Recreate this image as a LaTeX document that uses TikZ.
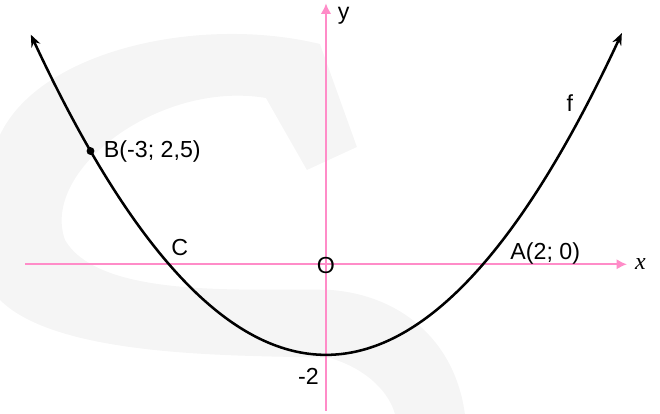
\documentclass[tikz,border=0pt]{standalone}
\usepackage{fontspec}
\setmainfont{Liberation Sans}
\newfontfamily\seriffont{Liberation Serif}
\usetikzlibrary{arrows.meta}
\definecolor{axispink}{RGB}{255,140,200}
\definecolor{markgray}{RGB}{245,245,245}
\begin{document}
\begin{tikzpicture}[x=1.9625cm,y=1.1325cm,
  axis/.style={axispink,line width=1.3pt,-{Latex[length=2.6mm,width=2.6mm]}},
  graph/.style={line width=1.8pt,{Stealth[length=3mm,width=2.4mm]}-{Stealth[length=3mm,width=2.4mm]}},
  lbl/.style={font=\fontsize{16.5}{19}\selectfont,inner sep=0pt}]
\useasboundingbox (-4.153,-3.305) rectangle (4.255,5.834);
\begin{scope}[shift={(-8.15cm,6.607cm)},x=0.025cm,y=-0.025cm]
\fill[markgray] (357,147) -- (320,44) .. controls (200,15) and (40,50) .. (0,135) -- (0,300)
  .. controls (60,360) and (250,355) .. (330,358) .. controls (370,370) and (390,395) .. (395,414)
  -- (465,414) .. controls (455,340) and (400,295) .. (330,290)
  .. controls (250,288) and (100,300) .. (65,240) .. controls (40,170) and (160,80) .. (266,98)
  -- (307,170) -- cycle;
\end{scope}
\coordinate (xs) at (-3.834,0); \coordinate (xe) at (3.834,0);
\coordinate (ys) at (0,-3.23); \coordinate (ye) at (0,5.76);
\draw[axis] (xs) -- (xe);
\draw[axis] (ys) -- (ye);
\draw[graph] plot[domain=-3.76:3.77,samples=80,smooth] (\x,{0.5*\x*\x-2});
\coordinate (A) at (2,0); \coordinate (C) at (-2,0);
\coordinate (B) at (-3,2.5); \coordinate (V) at (0,-2);
\fill (B) circle (2.8pt);
\node[lbl,anchor=west,xshift=3.3mm] (Blbl) at (B) {B(-3; 2,5)};
\node[lbl,anchor=south west,xshift=0.5mm,yshift=2mm] (Clbl) at (C) {C};
\node[lbl,anchor=base west,xshift=6.8mm,yshift=1.3mm] (Albl) at (A) {A(2; 0)};
\node[lbl,yshift=-0.4mm] (O) at (0,0) {O};
\node[lbl,xshift=-4.4mm,yshift=-5.5mm] (m2) at (V) {-2};
\node[lbl] (f) at (3.108,3.56) {f};
\node[lbl,anchor=west,xshift=2mm,font=\seriffont\itshape\fontsize{17}{20}\selectfont] (xl) at (xe) {x};
\node[lbl,xshift=4.4mm,yshift=-3.2mm] (yl) at (ye) {y};
\end{tikzpicture}
\end{document}
